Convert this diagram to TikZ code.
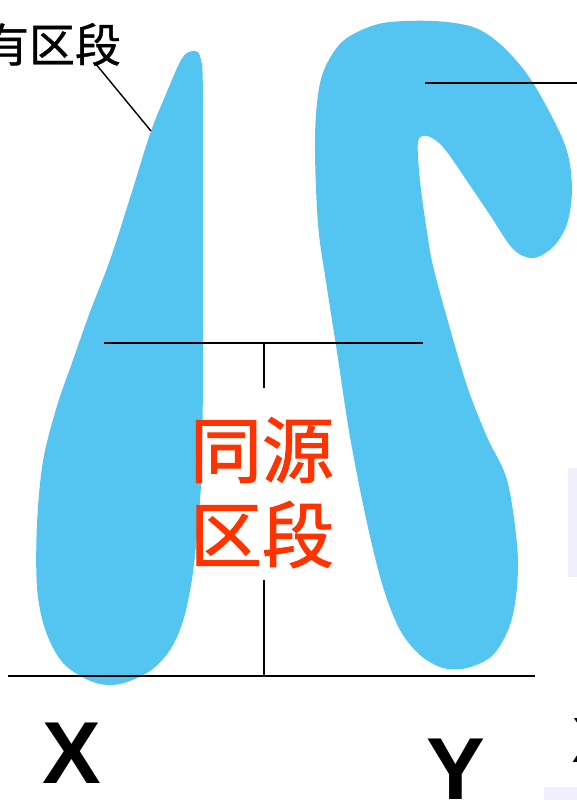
\documentclass[tikz,border=0pt]{standalone}
\usepackage{fontspec}
\setmainfont{Liberation Sans}
\newfontfamily\cjk[FakeBold=0.8]{Noto Sans CJK SC}
\newfontfamily\cjkred[FakeBold=1.4]{Noto Sans CJK SC}
\usetikzlibrary{positioning}
\definecolor{chromblue}{RGB}{84,196,240}
\definecolor{labelred}{RGB}{255,51,0}
\definecolor{panelgray}{RGB}{240,240,252}

\begin{document}
\begin{tikzpicture}[x=1pt,y=-1pt,
  chrom/.style={fill=chromblue, draw=none},
  seg/.style={draw=black, line width=2pt},
  lead/.style={draw=black, line width=1.4pt},
  blacklabel/.style={inner sep=0pt, anchor=base, font=\cjk\fontsize{46}{50}\selectfont},
  redlabel/.style={inner sep=0pt, anchor=base, text=labelred, font=\cjkred\fontsize{72}{76}\selectfont},
  letter/.style={inner sep=0pt, font=\bfseries\fontsize{88}{90}\selectfont}]
\useasboundingbox (0,0) rectangle (577,800);
\clip (0,0) rectangle (577,800);

\fill[panelgray] (568,468) rectangle (577,577);
\fill[panelgray] (544,787) rectangle (577,800);

% X chromosome
\fill[chrom] plot[smooth cycle, tension=0.55] coordinates {
  (189,52) (200,56) (203,100) (203,335) (202,461) (198,524) (192,579)
  (183,621) (170,650) (150,671) (120,684) (93,682) (63,663) (45,629)
  (37,587) (37,524) (43,461) (57,406) (73,360) (90,312) (110,260)
  (130,198) (150,134) (166,94) (180,62)};

% Y chromosome
\fill[chrom] plot[smooth cycle, tension=0.55] coordinates {
  (383,23) (433,21) (473,27) (500,44) (527,74) (550,113) (567,151)
  (572,189) (567,224) (553,247) (533,258) (513,249) (490,215) (467,181)
  (443,147) (427,136) (418,142) (420,181) (427,232) (433,266) (447,318)
  (467,386) (487,437) (507,480) (517,544) (517,587) (510,625) (493,655)
  (467,668) (443,668) (420,655) (400,630) (383,587) (367,523) (350,437)
  (337,352) (327,288) (318,224) (315,138) (320,83) (333,53) (350,36)};

\node[blacklabel] (upper) at (52,62) {有区段};
\node[redlabel] (homo1) at (262,477) {同源};
\node[redlabel] (homo2) at (262,562) {区段};
\node[letter] (xlab) at (71.5,753.5) {X};
\node[letter] (ylab) at (455.5,769.5) {Y};
\node[letter, font=\bfseries\fontsize{64}{66}\selectfont] (xnext) at (594,740) {X};

\coordinate (leadstart) at (95,63);
\coordinate (xtip) at (151,131);
\coordinate (topL) at (425,83);
\coordinate (topR) at (580,83);
\coordinate (midL) at (104,343);
\coordinate (midR) at (423,343);
\coordinate (midC) at (264,343);
\coordinate (tick) at (264,388);
\coordinate (stemtop) at (264,580);
\coordinate (baseL) at (8,676);
\coordinate (baseR) at (535,676);
\coordinate (baseC) at (264,676);

\draw[lead] (leadstart) -- (xtip);
\draw[seg] (topL) -- (topR);
\draw[seg] (midL) -- (midR);
\draw[seg] (midC) -- (tick);
\draw[seg] (stemtop) -- (baseC);
\draw[seg] (baseL) -- (baseR);
\end{tikzpicture}
\end{document}
